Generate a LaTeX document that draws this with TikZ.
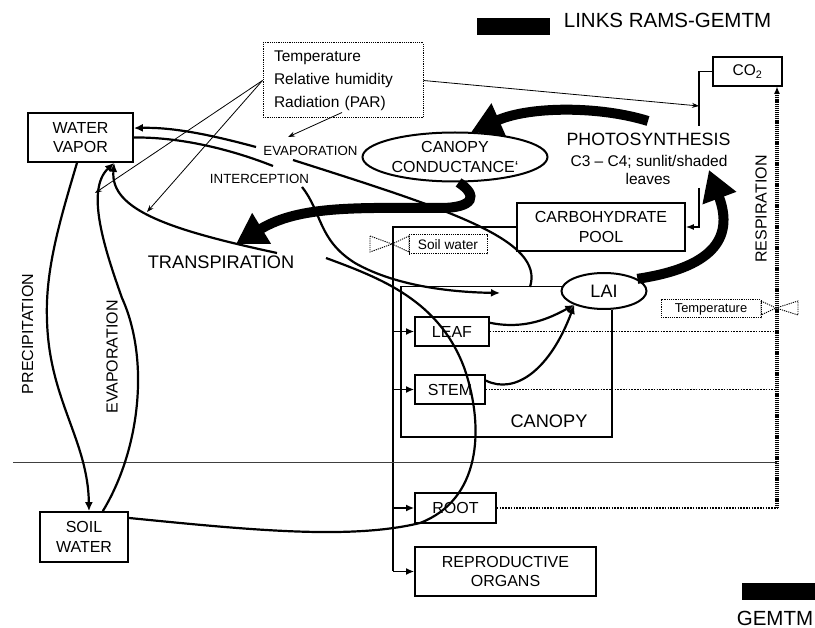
\documentclass[tikz,border=0pt]{standalone}
\usepackage{fontspec}
\setmainfont{Liberation Sans}
\usetikzlibrary{arrows.meta,shapes.geometric}
\begin{document}
\begin{tikzpicture}[x=1pt,y=-1pt,
  box/.style={draw,line width=1.7pt,inner sep=0pt,align=center,font=\fontsize{16}{19.5}\selectfont},
  oval/.style={draw,ellipse,line width=2pt,inner sep=0pt,align=center},
  dotbox/.style={draw,line width=1pt,dash pattern=on 1.2pt off 1pt,inner sep=0pt},
  lbl/.style={inner sep=0pt,align=center},
  crv/.style={line width=2.2pt},
  crvarr/.style={line width=2.2pt,-{Latex[length=9pt,width=8pt]}},
  big/.style={line width=10pt,-{Triangle[length=30pt,width=34pt]}},
  tarrow/.style={line width=0.8pt,-{Stealth[length=7pt,width=5pt]}},
  conn/.style={line width=1.7pt},
  connarr/.style={line width=1.7pt,-{Latex[length=8pt,width=7pt]}},
  dots/.style={line width=1.9pt,dash pattern=on 1.5pt off 1.3pt},
  resp/.style={line width=3.2pt,dash pattern=on 1.2pt off 0.9pt},
  valve/.style={line width=0.9pt,dash pattern=on 1.2pt off 1pt},
]
\useasboundingbox (0,0) rectangle (815,628);

% legend
\node[fill=black,minimum width=73pt,minimum height=17pt,inner sep=0pt] (leg1) at (513.5,26.5) {};
\node[lbl,anchor=base,font=\fontsize{20.5}{22}\selectfont] (leg1t) at (667.5,28) {LINKS RAMS-GEMTM};
\node[fill=black,minimum width=73pt,minimum height=17pt,inner sep=0pt] (leg2) at (778.5,591.5) {};
\node[lbl,anchor=base,font=\fontsize{20.5}{22}\selectfont] (leg2t) at (775,625) {GEMTM};

% boxes
\node[box,minimum width=105pt,minimum height=49pt] (wv) at (80.5,137.5) {WATER\\VAPOR};
\node[box,minimum width=88pt,minimum height=50pt] (sw) at (84,537) {SOIL\\WATER};
\node[box,minimum width=69pt,minimum height=29pt,font=\fontsize{15.5}{17}\selectfont] (co2) at (747.5,71.5) {CO\textsubscript{2}};
\node[box,minimum width=168pt,minimum height=48pt] (carb) at (601,227) {CARBOHYDRATE\\POOL};
\node[box,minimum width=74pt,minimum height=29pt] (leaf) at (452,331.5) {LEAF};
\node[box,minimum width=70pt,minimum height=29pt] (stem) at (450,389.5) {STEM};
\node[box,minimum width=81pt,minimum height=30pt] (root) at (455.5,508) {ROOT};
\node[box,minimum width=181pt,minimum height=49pt] (repro) at (505.5,571.5) {REPRODUCTIVE\\ORGANS};
\node[oval,minimum width=185pt,minimum height=49pt,font=\fontsize{16}{19.5}\selectfont] (cc) at (455,157) {CANOPY\\CONDUCTANCE`};
\node[oval,minimum width=85pt,minimum height=36pt,font=\fontsize{18}{20}\selectfont] (lai) at (604,291) {LAI};

\node[dotbox,minimum width=160pt,minimum height=75pt,text width=138pt,align=left,font=\fontsize{15.5}{23}\selectfont] (temp) at (343,80.5) {Temperature\\Relative humidity\\Radiation (PAR)};
\node[dotbox,minimum width=78pt,minimum height=19pt,font=\fontsize{13.7}{15}\selectfont] (soilw) at (448,244.5) {Soil water};
\node[dotbox,minimum width=100pt,minimum height=18pt,font=\fontsize{12.9}{14}\selectfont] (tempr) at (711,309) {Temperature};

% labels
\node[lbl,anchor=base,font=\fontsize{17.8}{20}\selectfont] (photo) at (648.5,146) {PHOTOSYNTHESIS};
\node[lbl,anchor=base,font=\fontsize{15.5}{18}\selectfont] (photo2) at (649,167) {C3 – C4; sunlit/shaded};
\node[lbl,anchor=base,font=\fontsize{15.5}{18}\selectfont] (photo3) at (648,185) {leaves};
\node[lbl,anchor=base,font=\fontsize{13.3}{15}\selectfont] (evlab) at (310.5,156) {EVAPORATION};
\node[lbl,anchor=base,font=\fontsize{13.3}{15}\selectfont] (intlab) at (259.5,184) {INTERCEPTION};
\node[lbl,anchor=base,font=\fontsize{18.2}{20}\selectfont] (trlab) at (221,269) {TRANSPIRATION};
\node[lbl,anchor=base,font=\fontsize{18.2}{20}\selectfont] (canlab) at (549,428) {CANOPY};
\node[lbl,rotate=90,font=\fontsize{16}{18}\selectfont] (resplbl) at (761,209) {RESPIRATION};
\node[lbl,rotate=90,font=\fontsize{16}{18}\selectfont] (preclbl) at (27.5,334) {PRECIPITATION};
\node[lbl,rotate=90,font=\fontsize{16}{18}\selectfont] (evlab2) at (112,357) {EVAPORATION};

% canopy box
\coordinate (cbl) at (401,437);
\draw[conn] (lai.174) -| (cbl) -| (lai.294);

% carbohydrate distribution
\coordinate (dist) at (393,571.5);
\draw[conn] (carb.west) -| (dist);
\draw[connarr] (dist |- leaf.west) -- (leaf.west);
\draw[connarr] (dist |- stem.west) -- (stem.west);
\draw[connarr] (dist |- root.west) -- (root.west);
\draw[connarr] (dist) -- (repro.west);

% soil water valve
\draw[valve] (370,236) -- (392,244) -- (370,252) -- cycle;
\draw[valve] (392,244) -- (409,236) -- (409,252) -- cycle;

% CO2 links
\coordinate (cj) at (699,126);
\coordinate (tj) at (699,106);
\draw[line width=1.3pt] (co2.west) -| (cj);
\draw[tarrow] (temp.east) -- (tj);
\coordinate (pc) at (699,188);
\draw[line width=1.3pt,-{Latex[length=8pt,width=6pt]}] (pc) |- (carb.east);

% respiration
\coordinate (rtop) at (777,86);
\coordinate (rbot) at (777,508);
\draw[dots] (root.east) -- (rbot);
\draw[dots] (leaf.east) -- (leaf.east -| rtop);
\draw[dots] (stem.east) -- (stem.east -| rtop);
\draw[resp,-{Latex[length=8pt,width=6pt]}] (rbot) -- (rtop);

% temperature valve
\draw[valve] (761,301) -- (776,308) -- (761,315) -- cycle;
\draw[valve] (776,308) -- (798,301) -- (798,315) -- cycle;

% ground line
\coordinate (gl) at (13,463);
\coordinate (gr) at (777,463);
\draw[line width=1pt,black!75] (gl) -- (gr);

% water curves
\coordinate (a0) at (256,147);
\draw[crvarr] (a0) .. controls (215,136) and (175,127) .. (wv.10);
\coordinate (b0) at (273,166);
\draw[crv] (b0) .. controls (230,149) and (180,137) .. (wv.east);
\coordinate (c0) at (293,160);
\coordinate (c1) at (530,287);
\draw[crv] (c0) .. controls (450,210) and (545,240) .. (c1);
\coordinate (d0) at (302,187);
\coordinate (d1) at (500,293);
\draw[crvarr] (d0) .. controls (322,212) and (318,240) .. (355,263) .. controls (390,283) and (440,292) .. (d1);
\coordinate (e0) at (326,258);
\draw[crv] (e0) .. controls (380,278) and (440,300) .. (465,370) .. controls (485,430) and (480,500) .. (420,523) .. controls (350,540) and (250,530) .. (sw.23);
\coordinate (f0) at (277,253);
\draw[crvarr] (f0) .. controls (170,230) and (110,210) .. (wv.323);
\draw[crvarr] (sw.54) .. controls (140,450) and (150,360) .. (122,298) .. controls (105,250) and (85,190) .. (wv.323);
\draw[crvarr] ([xshift=-3.5pt]wv.south) .. controls (60,220) and (45,270) .. (47,320) .. controls (49,400) and (88,440) .. ([xshift=5pt]sw.north);

% LAI arrows
\draw[crvarr] (leaf.13) .. controls (525,330) and (550,318) .. (lai.205);
\draw[crvarr] (stem.14) .. controls (515,395) and (550,370) .. (lai.205);

% temperature arrows
\coordinate (g1) at (95,193);
\coordinate (f1) at (147,212);
\coordinate (ev1) at (288,137);
\draw[tarrow] (temp.west) -- (g1);
\draw[tarrow] (temp.west) -- (f1);
\draw[tarrow] ([xshift=-1pt,yshift=6pt]temp.south) -- (ev1);

% thick arrows
\coordinate (t10) at (648,121);
\draw[big] (t10) .. controls (600,106) and (530,106) .. (cc.57);
\coordinate (t2e) at (236,244);
\draw[big] (cc.-82) .. controls (478,195) and (475,208) .. (440,208) .. controls (360,208) and (300,205) .. (t2e);
\coordinate (t3e) at (709,170);
\draw[big] (lai.20) .. controls (710,268) and (735,240) .. (t3e);
\end{tikzpicture}
\end{document}
